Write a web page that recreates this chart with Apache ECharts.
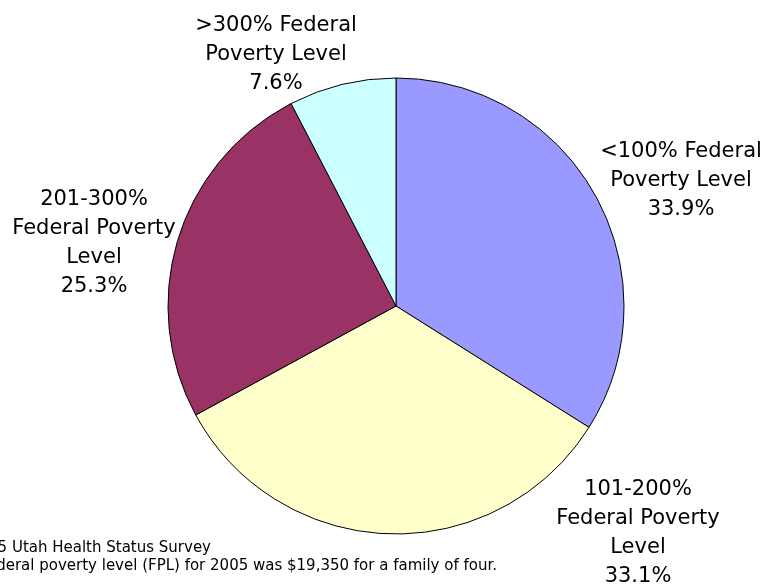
<!DOCTYPE html>
<html>
<head>
<meta charset="utf-8">
<script src="https://cdn.jsdelivr.net/npm/echarts@6/dist/echarts.min.js"></script>
<style>
html, body { margin: 0; padding: 0; background: #fff; }
#main { width: 764px; height: 587px; }
</style>
</head>
<body>
<div id="main"></div>
<script>
var myChart = echarts.init(document.getElementById('main'));

// data
var names = ['<100% Federal\nPoverty Level', '101-200%\nFederal Poverty\nLevel', '201-300%\nFederal Poverty\nLevel', '>300% Federal\nPoverty Level'];
var values = [33.9, 33.1, 25.3, 7.6];
var colors = ['#9999FF', '#FFFFCC', '#993366', '#CCFFFF'];
var notes = ['Source: 2005 Utah Health Status Survey', 'Note: The federal poverty level (FPL) for 2005 was $19,350 for a family of four.'];

// where the label blocks sit (centre of each block)
var labelPos = [[681, 181], [638, 533], [94, 243], [276, 55]];

var pieData = [];
for (var i = 0; i < values.length; i++) {
	pieData.push({
		name: names[i],
		value: values[i],
		itemStyle: { color: colors[i] }
	});
}

var option = {
	backgroundColor: '#ffffff',
	animation: false,
	series: [{
		type: 'pie',
		center: [396, 306],
		radius: 228,
		startAngle: 90,
		clockwise: true,
		itemStyle: {
			borderColor: '#000',
			borderWidth: 1
		},
		label: {
			show: true,
			position: 'outside',
			formatter: function(p) {
				return p.name + '\n' + p.value.toFixed(1) + '%';
			},
			fontFamily: 'DejaVu Sans',
			fontSize: 21,
			lineHeight: 29,
			color: '#000',
			align: 'center',
			overflow: 'none'
		},
		labelLine: { show: false },
		labelLayout: function(params) {
			var p = labelPos[params.dataIndex];
			return {
				x: p[0],
				y: p[1],
				align: 'center',
				verticalAlign: 'middle'
			};
		},
		emphasis: { disabled: true },
		data: pieData
	}],
	graphic: [{
		type: 'text',
		right: 764 - 211,
		top: 541,
		style: {
			text: notes[0],
			font: '15px "DejaVu Sans"',
			fill: '#000',
			textAlign: 'right'
		}
	}, {
		type: 'text',
		right: 764 - 497,
		top: 559,
		style: {
			text: notes[1],
			font: '15px "DejaVu Sans"',
			fill: '#000',
			textAlign: 'right'
		}
	}]
};

myChart.setOption(option);
</script>
</body>
</html>
